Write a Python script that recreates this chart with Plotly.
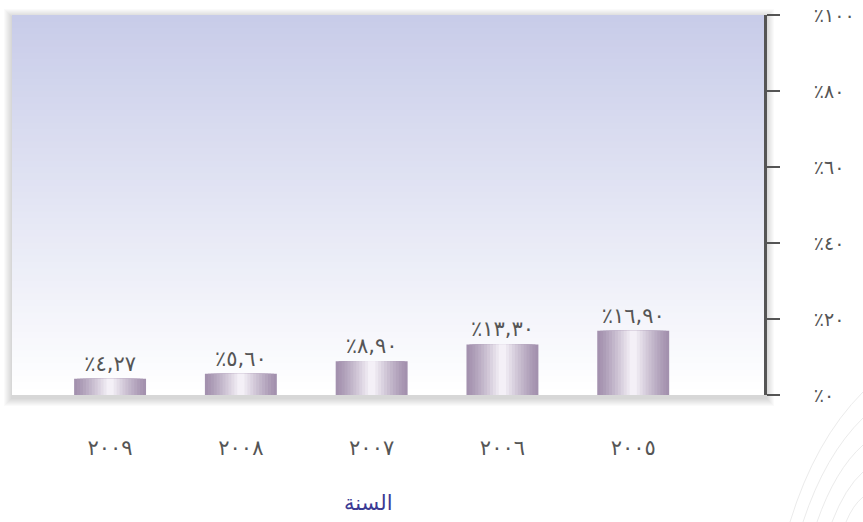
import plotly.graph_objects as go

# ---- data ----
years = ["٢٠٠٥", "٢٠٠٦", "٢٠٠٧", "٢٠٠٨", "٢٠٠٩"]
values = [16.90, 13.30, 8.90, 5.60, 4.27]
value_labels = ["٪١٦,٩٠", "٪١٣,٣٠", "٪٨,٩٠", "٪٥,٦٠", "٪٤,٢٧"]
y_ticks = [0, 20, 40, 60, 80, 100]
y_tick_labels = ["٪٠", "٪٢٠", "٪٤٠", "٪٦٠", "٪٨٠", "٪١٠٠"]
x_title = "السنة"

W, H = 863, 522
ML, MR, MT, MB = 12, 99, 15, 127
PW, PH = W - ML - MR, H - MT - MB


def px2paper(x, y):
    return (x - ML) / PW, (H - MB - y) / PH


def hexmix(c1, c2, t):
    a = [int(c1[i:i + 2], 16) for i in (1, 3, 5)]
    b = [int(c2[i:i + 2], 16) for i in (1, 3, 5)]
    return "#" + "".join(f"{round(a[k] + (b[k] - a[k]) * t):02x}" for k in range(3))


fig = go.Figure()

# bar layers to mimic horizontal gradient
edge, centre = "#a391ae", "#f4f0f7"
NL = 12
wmax = 0.54
for i in range(NL):
    w = wmax * (1 - i / NL) + 0.01
    c = hexmix(edge, centre, (i / (NL - 1)) ** 1.2)
    fig.add_trace(go.Bar(
        x=years, y=values, width=w,
        marker=dict(color=c, line=dict(width=0)),
        text=value_labels if i == 0 else None,
        textposition="outside" if i == 0 else "none",
        textfont=dict(family="DejaVu Sans", size=21, color="#555555"),
        constraintext="none",
        cliponaxis=False,
        hoverinfo="skip",
        showlegend=False,
    ))

shapes = []
# drop shadow around plot area
for k in range(8, 0, -1):
    x0, y1 = px2paper(ML - k, MT - k + 2)
    x1, y0 = px2paper(ML + PW + k + 2, MT + PH + k + 3)
    shapes.append(dict(type="rect", xref="paper", yref="paper", x0=x0, x1=x1, y0=y0, y1=y1,
                       fillcolor="rgba(0,0,0,0.02)", line=dict(width=0), layer="below"))
# vertical gradient background
N = 60
top, bot = "#c8cce9", "#ffffff"
for i in range(N):
    shapes.append(dict(type="rect", xref="paper", yref="paper", x0=0, x1=1,
                       y0=max(0, 1 - (i + 1) / N - 0.004), y1=1 - i / N,
                       fillcolor=hexmix(top, bot, i / (N - 1)), line=dict(width=0), layer="below"))
# decorative arcs bottom right
arcs = [((790, 522), (815, 440), (863, 392)), ((803, 522), (825, 455), (863, 418)),
        ((817, 522), (835, 470), (863, 445)), ((832, 522), (845, 488), (863, 472)),
        ((846, 522), (853, 505), (863, 497))]
for p0, pc, p1 in arcs:
    a = px2paper(*p0); b = px2paper(*pc); c = px2paper(*p1)
    shapes.append(dict(type="path", xref="paper", yref="paper",
                       path=f"M{a[0]},{a[1]} Q{b[0]},{b[1]} {c[0]},{c[1]}",
                       line=dict(color="#ebebeb", width=1), layer="below"))

tx, ty = px2paper(368, 503)

fig.update_layout(
    width=W, height=H,
    margin=dict(l=ML, r=MR, t=MT, b=MB, pad=0, autoexpand=False),
    paper_bgcolor="white",
    plot_bgcolor="rgba(0,0,0,0)",
    barmode="overlay",
    shapes=shapes,
    showlegend=False,
    font=dict(family="DejaVu Sans", color="#555555"),
    xaxis=dict(
        type="category", categoryorder="array", categoryarray=years,
        range=[4.75, -1.0], showgrid=False, zeroline=False, showline=False,
        ticks="", tickfont=dict(family="DejaVu Sans", size=21, color="#555555"),
        ticklabelstandoff=38, fixedrange=True, automargin=False,
    ),
    yaxis=dict(
        range=[0, 100], side="right", tickvals=y_ticks, ticktext=y_tick_labels,
        showgrid=False, zeroline=False, showline=True, linecolor="#555555", linewidth=3,
        ticks="outside", ticklen=13, tickwidth=2, tickcolor="#555555",
        tickfont=dict(family="DejaVu Sans", size=19, color="#555555"),
        ticklabelstandoff=30, fixedrange=True, automargin=False,
    ),
    annotations=[dict(text=x_title, xref="paper", yref="paper", x=tx, y=ty,
                      showarrow=False, xanchor="center", yanchor="middle",
                      font=dict(family="DejaVu Sans", size=21, color="#3b3a94"))],
)

fig.write_html("out.html")
